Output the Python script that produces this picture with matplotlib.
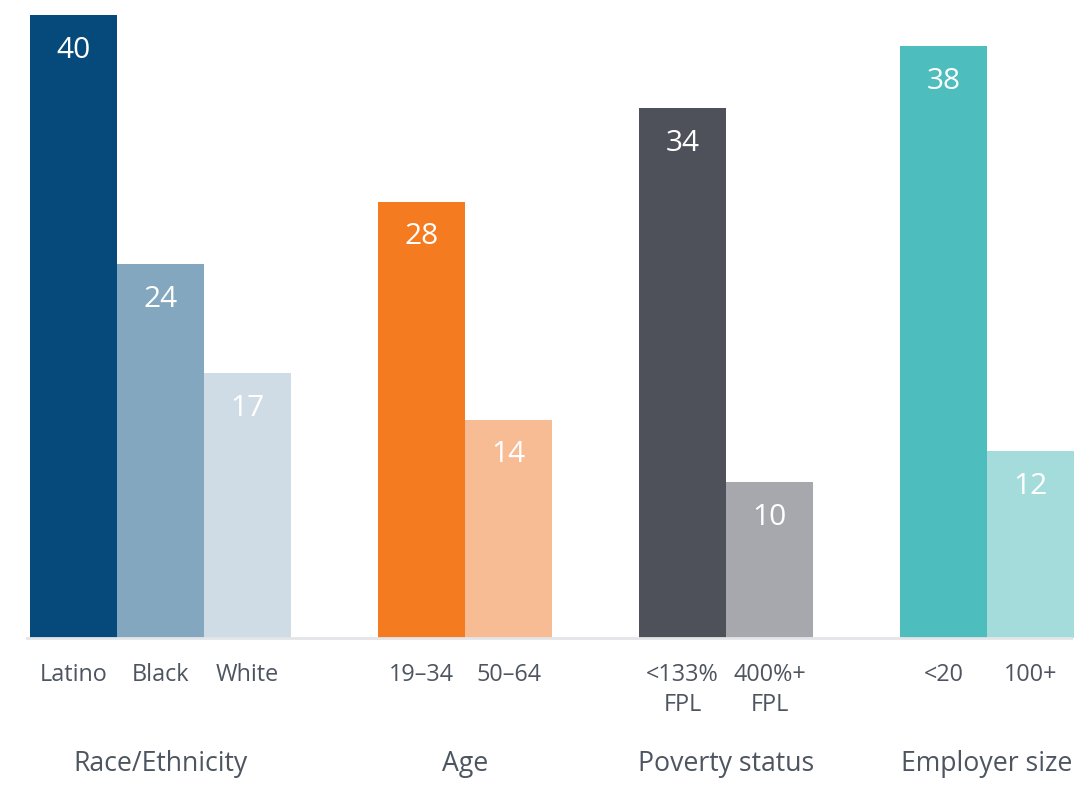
import matplotlib.pyplot as plt

# bar data
labels = ['Latino', 'Black', 'White', '19\u201334', '50\u201364',
          '<133%\nFPL', '400%+\nFPL', '<20', '100+']
values = [40, 24, 17, 28, 14, 34, 10, 38, 12]
slots = [0, 1, 2, 4, 5, 7, 8, 10, 11]
colors = ['#064a7c', '#84a7c0', '#cfdce5', '#f47b20', '#f8bc94',
          '#4e515a', '#a6a8ad', '#4dbdbd', '#a4dcdc']
groups = ['Race/Ethnicity', 'Age', 'Poverty status', 'Employer size']
group_centers = [1, 4.5, 7.5, 10.5]

text_color = '#4d5560'
plt.rcParams['font.family'] = ['Open Sans', 'DejaVu Sans']

W, H = 1085, 787
fig = plt.figure(figsize=(W / 100, H / 100), dpi=100)
ax = fig.add_axes([30 / W, (H - 638) / H, 1044 / W, 623 / H])

ax.bar(slots, values, width=1.0, color=colors, linewidth=0)
ax.set_xlim(-0.5, 11.5)
ax.set_ylim(0, 40)
ax.axis('off')

# baseline
ax.plot([-0.53, 11.47], [0, 0], color='#e3e5e8', lw=2, clip_on=False)

for x, v in zip(slots, values):
    ax.annotate(str(v), (x, v), xytext=(0, -35), textcoords='offset pixels',
                ha='center', va='center', color='white', fontsize=21.5)

for x, lab in zip(slots, labels):
    ax.annotate(lab, (x, 0), xytext=(0, -25), textcoords='offset pixels',
                ha='center', va='top', color=text_color, fontsize=16.8,
                linespacing=1.35)

for x, g in zip(group_centers, groups):
    ax.annotate(g, (x, 0), xytext=(0, -126), textcoords='offset pixels',
                ha='center', va='center', color=text_color, fontsize=19.2)

fig.savefig('out.png', dpi=100)
